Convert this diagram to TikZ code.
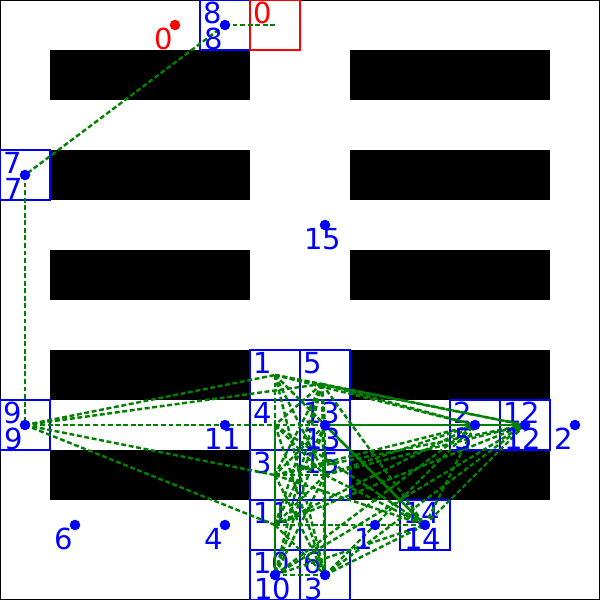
\documentclass[tikz,border=0pt]{standalone}
\usepackage{fontspec}
\setmainfont{DejaVu Sans}
\begin{document}
\begin{tikzpicture}[x=0.02cm,y=-0.02cm,
	wall/.style={fill=black},
	cell/.style={draw=blue,line width=1.6pt},
	edge/.style={draw=green!50!black,line width=1.4pt,dash pattern=on 2.8pt off 1.5pt},
	route/.style={draw=green!50!black,line width=1.4pt},
	dot/.style={circle,fill=blue,inner sep=0pt,minimum size=6pt},
	lbl/.style={inner sep=0pt,text=blue,font=\fontsize{16.5}{18}\selectfont}]
	\useasboundingbox (0,0) rectangle (600,600);
	
	% keret
	\draw[line width=0.8pt] (0,0) rectangle (600,600);
	
	% falak
	\foreach \y in {50,150,250,350,450} {
		\fill[wall] (50,\y) rectangle (250,\y+50);
		\fill[wall] (350,\y) rectangle (550,\y+50);
	}
	
	% cellak
	\foreach \x/\y/\t in {200/0/8, 0/150/7, 0/400/9, 250/350/1, 300/350/5, 250/400/4,
		300/400/13, 250/450/3, 300/450/15, 250/500/11, 250/550/10, 300/550/6,
		400/500/14, 450/400/2, 500/400/12} {
		\draw[cell] (\x,\y) rectangle ++(50,50);
		\node[lbl,anchor=north west] (box\t) at (\x+3,\y+2) {\t};
	}
	\draw[draw=red,line width=1.6pt] (250,0) rectangle ++(50,50);
	\node[lbl,text=red,anchor=north west] (box0) at (253,2) {0};
	
	% kozeppontok
	\coordinate (c0) at (275,25);
	\coordinate (c8) at (225,25);
	\coordinate (c7) at (25,175);
	\coordinate (c9) at (25,425);
	\coordinate (c1) at (275,375);
	\coordinate (c5) at (322,384);
	\coordinate (c4) at (275,425);
	\coordinate (c13) at (325,425);
	\coordinate (c3) at (275,475);
	\coordinate (c15) at (325,475);
	\coordinate (c11) at (275,525);
	\coordinate (c10) at (275,575);
	\coordinate (c6) at (325,575);
	\coordinate (c14) at (425,525);
	\coordinate (c2) at (475,425);
	\coordinate (c12) at (525,425);
	
	% elek
	\draw[edge] (c8) -- (c0);
	\draw[edge] (c8) -- (c7);
	\draw[edge] (c7) -- (c9);
	\foreach \b in {c1,c5,c4,c3,c11} \draw[edge] (c9) -- (\b);
	\foreach \a [count=\i] in {c1,c5,c4,c13,c3,c15,c11,c10,c6} {
		\foreach \b [count=\j] in {c1,c5,c4,c13,c3,c15,c11,c10,c6} {
			\ifnum\j>\i \draw[edge] (\a) -- (\b); \fi
		}
		\foreach \b in {c2,c12,c14} \draw[edge] (\a) -- (\b);
	}
	\draw[edge] (c14) -- (c2);
	\draw[edge] (c14) -- (c12);
	\draw[edge] (c2) -- (c12);
	\draw[route] (c13) -- (c12);
	\draw[route] (c13) -- (c14);
	
	% pontok es feliratok
	\foreach \x/\y/\t in {225/25/8, 25/175/7, 325/225/15, 25/425/9, 225/425/11,
		325/425/13, 475/425/5, 525/425/12, 575/425/2, 75/525/6, 225/525/4,
		375/525/1, 425/525/14, 275/575/10, 325/575/3} {
		\node[dot] (p\t) at (\x,\y) {};
		\node[lbl,anchor=north west] (t\t) at (\x-21,\y+3) {\t};
	}
	\node[dot,fill=red] (p0) at (175,25) {};
	\node[lbl,text=red,anchor=north west] (t0) at (154,28) {0};
	
\end{tikzpicture}
\end{document}
